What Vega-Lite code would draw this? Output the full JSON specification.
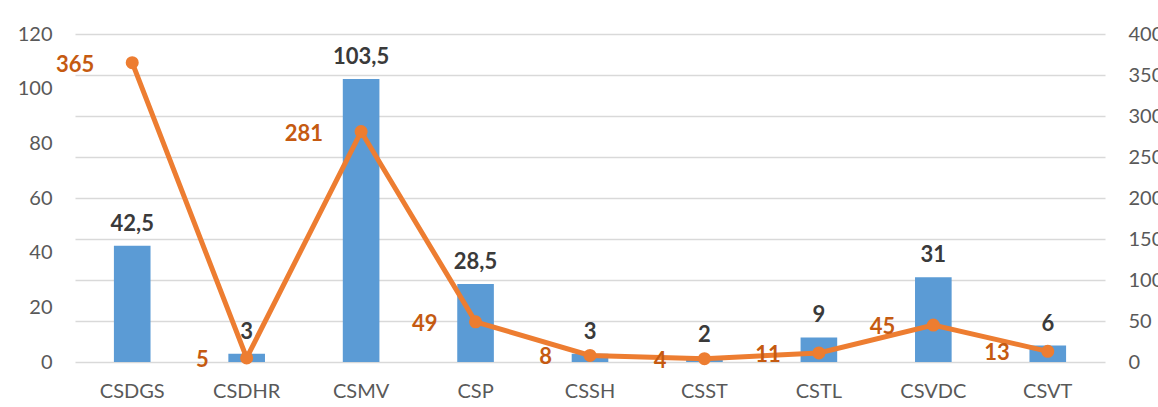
{
  "$schema": "https://vega.github.io/schema/vega-lite/v6.json",
  "width": 1030,
  "height": 328,
  "autosize": {"type": "none"},
  "padding": {"left": 75, "top": 34, "right": 53, "bottom": 45},
  "background": "white",
  "config": {
    "font": "Lato",
    "view": {"stroke": null},
    "axis": {"labelFont": "Lato", "labelColor": "#595959", "labelFontSize": 20, "ticks": false, "domain": false}
  },
  "data": {
    "values": [
      {"code": "CSDGS", "bar": 42.5, "barLabel": "42,5", "line": 365},
      {"code": "CSDHR", "bar": 3, "barLabel": "3", "line": 5},
      {"code": "CSMV", "bar": 103.5, "barLabel": "103,5", "line": 281},
      {"code": "CSP", "bar": 28.5, "barLabel": "28,5", "line": 49},
      {"code": "CSSH", "bar": 3, "barLabel": "3", "line": 8},
      {"code": "CSST", "bar": 2, "barLabel": "2", "line": 4},
      {"code": "CSTL", "bar": 9, "barLabel": "9", "line": 11},
      {"code": "CSVDC", "bar": 31, "barLabel": "31", "line": 45},
      {"code": "CSVT", "bar": 6, "barLabel": "6", "line": 13}
    ]
  },
  "encoding": {
    "x": {
      "field": "code", "type": "nominal", "sort": null, "title": null,
      "scale": {"paddingInner": 0.68, "paddingOuter": 0.34},
      "axis": {"labelAngle": 0, "labelPadding": 19, "grid": false}
    }
  },
  "layer": [
    {
      "layer": [
        {
          "mark": {"type": "bar", "color": "#5B9BD5"},
          "encoding": {
            "y": {
              "field": "bar", "type": "quantitative", "title": null,
              "scale": {"domain": [0, 120], "nice": false},
              "axis": {"values": [0, 20, 40, 60, 80, 100, 120], "grid": false, "labelPadding": 23, "orient": "left"}
            }
          }
        },
        {
          "mark": {"type": "text", "baseline": "bottom", "dy": -10, "fontSize": 22, "fontWeight": "bold", "color": "#3A3A3A", "font": "Lato"},
          "encoding": {
            "y": {"field": "bar", "type": "quantitative"},
            "text": {"field": "barLabel", "type": "nominal"}
          }
        }
      ]
    },
    {
      "layer": [
        {
          "mark": {"type": "line", "color": "#ED7D31", "strokeWidth": 5, "point": {"filled": true, "color": "#ED7D31", "size": 170}},
          "encoding": {
            "y": {
              "field": "line", "type": "quantitative", "title": null,
              "scale": {"domain": [0, 400], "nice": false},
              "axis": {"values": [0, 50, 100, 150, 200, 250, 300, 350, 400], "grid": true, "gridColor": "#D9D9D9", "gridWidth": 1.5, "labelPadding": 23, "orient": "right"}
            }
          }
        },
        {
          "mark": {"type": "text", "align": "right", "baseline": "middle", "dx": -38, "dy": 2, "fontSize": 22, "fontWeight": "bold", "color": "#C55A11", "font": "Lato"},
          "encoding": {
            "y": {"field": "line", "type": "quantitative"},
            "text": {"field": "line", "type": "quantitative"}
          }
        }
      ]
    }
  ],
  "resolve": {"scale": {"y": "independent"}}
}
